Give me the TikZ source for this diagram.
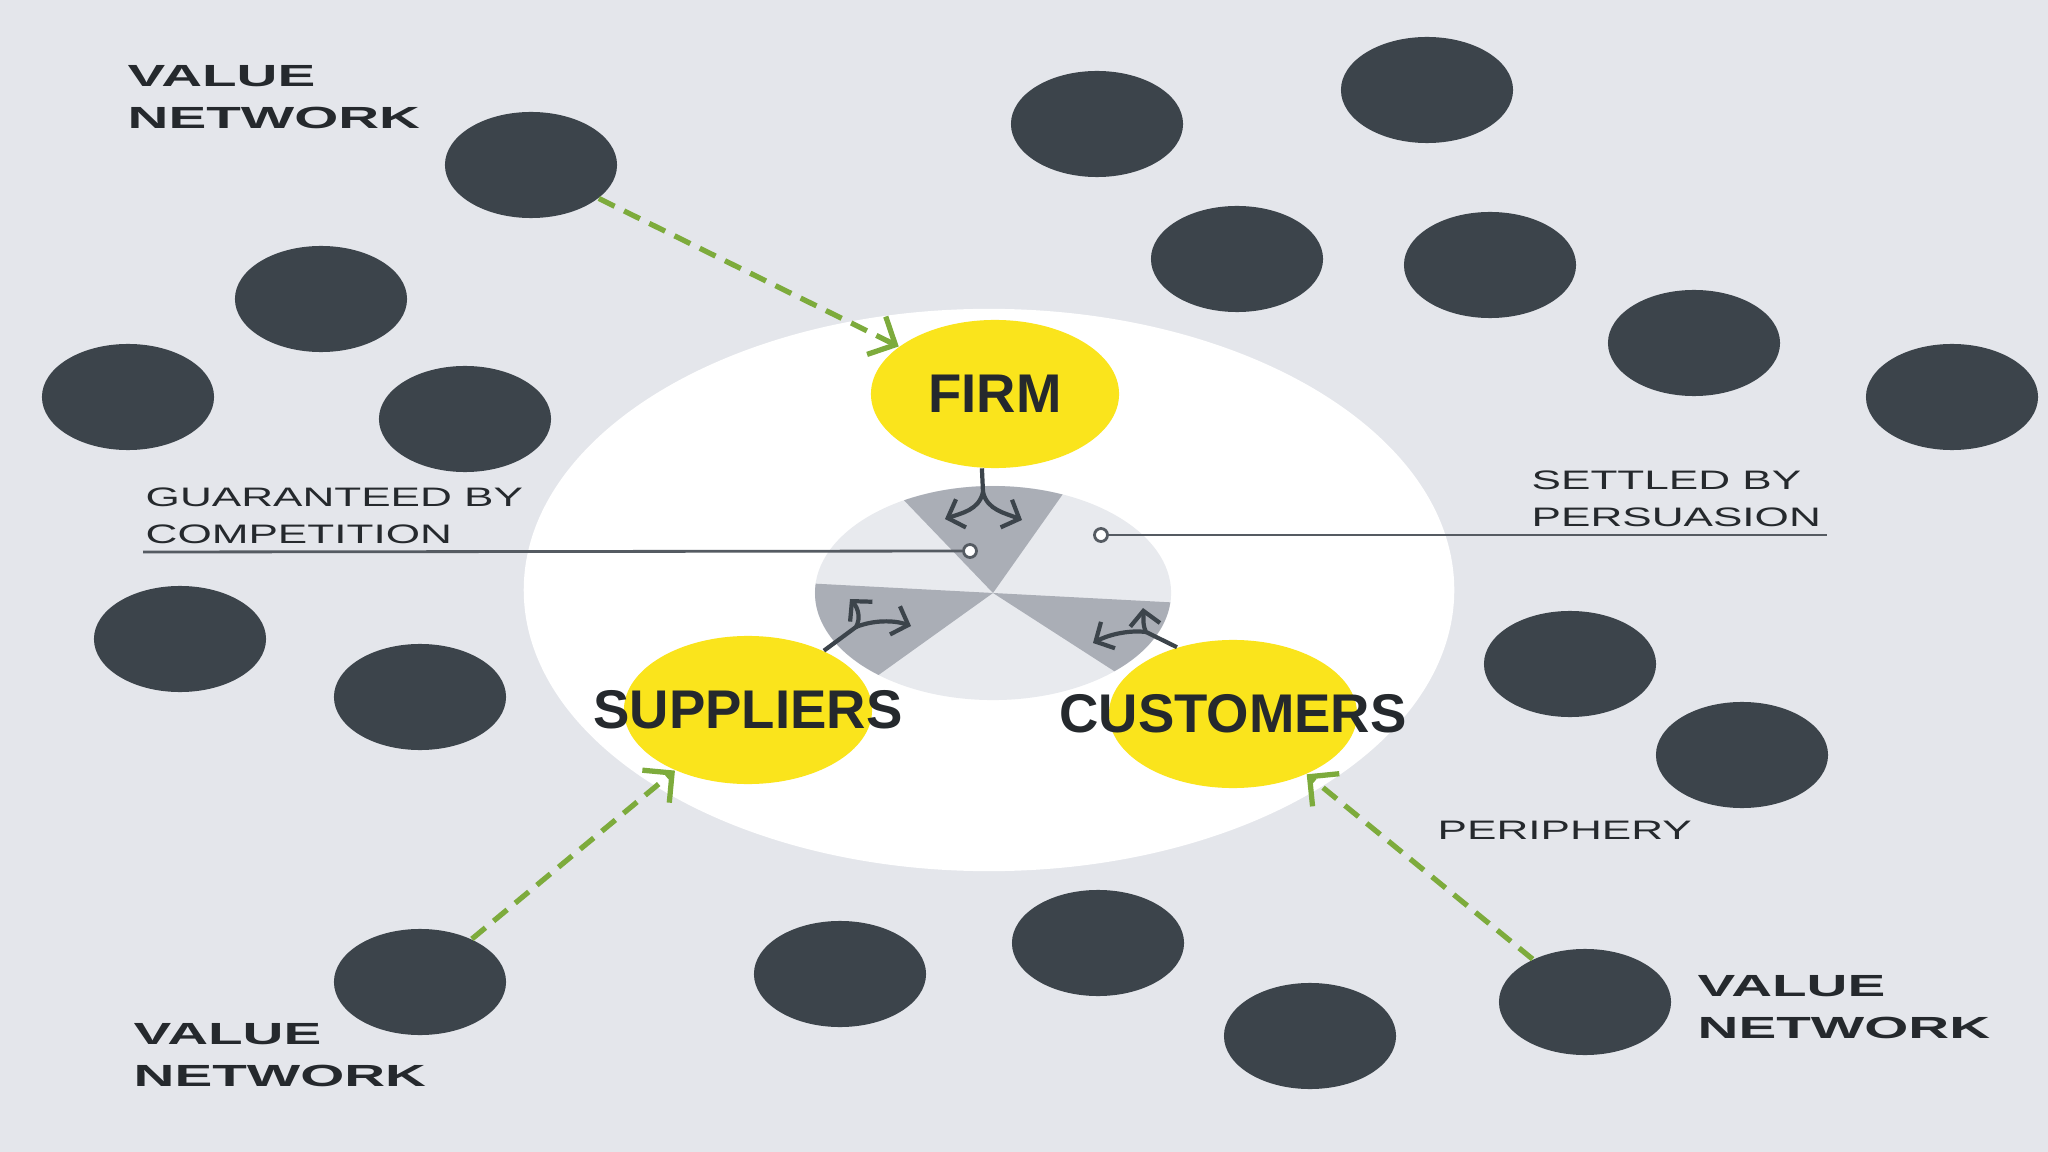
\documentclass[tikz,border=0pt]{standalone}
\usepackage{fontspec}
\setmainfont{Liberation Sans}
\newfontfamily\widefont{Liberation Sans}[FakeStretch=1.65]
\newfontfamily\widerfont{Liberation Sans}[FakeStretch=1.85]
\usetikzlibrary{positioning, arrows.meta, shapes.geometric}
\definecolor{bgc}{RGB}{228,230,235}
\definecolor{dotc}{RGB}{60,68,75}
\definecolor{corec}{RGB}{250,228,28}
\definecolor{pielt}{RGB}{232,234,238}
\definecolor{piedk}{RGB}{170,174,182}
\definecolor{ink}{RGB}{37,41,45}
\definecolor{linec}{RGB}{85,91,98}
\definecolor{vgreen}{RGB}{125,171,60}
\tikzset{
  peer/.style={ellipse, fill=dotc, minimum width=1.72cm, minimum height=1.06cm, inner sep=0},
  core/.style={ellipse, fill=corec, minimum width=2.48cm, minimum height=1.48cm, inner sep=0},
  corelbl/.style={text=ink, inner sep=0, font=\bfseries\fontsize{15.5}{18}\selectfont},
  hub/.style={ellipse, fill=white, minimum width=9.3cm, minimum height=5.62cm, inner sep=0},
  disc/.style={ellipse, fill=pielt, minimum width=3.56cm, minimum height=2.14cm, inner sep=0},
  knob/.style={circle, draw=linec, fill=white, line width=0.8pt, minimum size=0.13cm, inner sep=0},
  lead/.style={draw=linec, line width=0.8pt},
  arr/.style={-{Straight Barb[length=4pt, width=8.5pt]}, line width=1.2pt, draw=dotc},
  garr/.style={-{Straight Barb[length=6pt, width=12pt]}, line width=1.5pt, draw=vgreen, dash pattern=on 5pt off 3pt},
  lbl/.style={inner sep=0, align=left, text=ink, font=\widefont\fontsize{7.6}{10.5}\selectfont},
  big/.style={lbl, font=\widerfont\bfseries\fontsize{8.7}{12}\selectfont}
}
\begin{document}
\begin{tikzpicture}[x=0.01cm, y=-0.01cm]
\useasboundingbox (0,0) rectangle (2048,1152);
\fill[bgc] (0,0) rectangle (2048,1152);
\node[peer] (n1) at (531,165) {};
\node[peer] (n2) at (321,299) {};
\node[peer] (n3) at (128,397) {};
\node[peer] (n4) at (465,419) {};
\node[peer] (n5) at (1097,124) {};
\node[peer] (n6) at (1427,90) {};
\node[peer] (n7) at (1237,259) {};
\node[peer] (n8) at (1490,265) {};
\node[peer] (n9) at (1694,343) {};
\node[peer] (n10) at (1952,397) {};
\node[peer] (n11) at (180,639) {};
\node[peer] (n12) at (420,697) {};
\node[peer] (n13) at (1570,664) {};
\node[peer] (n14) at (1742,755) {};
\node[peer] (n15) at (420,982) {};
\node[peer] (n16) at (840,974) {};
\node[peer] (n17) at (1098,943) {};
\node[peer] (n18) at (1310,1036) {};
\node[peer] (n19) at (1585,1002) {};
\node[hub] (hub) at (989,590) {};
\node[disc] (pie) at (993,593) {};
\fill[piedk] (pie.center) -- ++(-67:178 and 107) arc[start angle=-67, end angle=-120, x radius=178, y radius=107] -- cycle;
\fill[piedk] (pie.center) -- ++(-175:178 and 107) arc[start angle=-175, end angle=-230, x radius=178, y radius=107] -- cycle;
\fill[piedk] (pie.center) -- ++(-313:178 and 107) arc[start angle=-313, end angle=-355, x radius=178, y radius=107] -- cycle;
\node[core, label={[corelbl]center:FIRM}] (firm) at (995,394) {};
\node[core, label={[corelbl]center:SUPPLIERS}] (sup) at (748,710) {};
\node[core, label={[corelbl]center:CUSTOMERS}] (cus) at (1233,714) {};
\coordinate (fs) at (983,492);
\coordinate (fl) at (945,519);
\coordinate (fr) at (1022,520);
\draw[arr] (firm.-100) -- (fs) .. controls (979,510) and (962,513) .. (fl);
\draw[arr] (fs) .. controls (987,510) and (1005,513) .. (fr);
\coordinate (ss) at (856,627);
\coordinate (su) at (850,599);
\coordinate (sr) at (911,626);
\draw[arr] (sup.38) -- (ss) .. controls (861,618) and (858,608) .. (su);
\draw[arr] (ss) .. controls (873,620) and (894,620) .. (sr);
\coordinate (cs) at (1146,632);
\coordinate (cu) at (1143,608);
\coordinate (cl) at (1093,643);
\draw[arr] (cus.130) -- (cs) .. controls (1142,624) and (1144,616) .. (cu);
\draw[arr] (cs) .. controls (1130,630) and (1110,634) .. (cl);
\node[knob] (gdot) at (970,551) {};
\node[knob] (sdot) at (1101,535) {};
\coordinate (gend) at (143,552);
\coordinate (send) at (1827,535);
\draw[lead] (gend) -- (gdot);
\draw[lead] (sdot) -- (send);
\node[lbl, anchor=north west] (guar) at (145,487) {GUARANTEED BY\\COMPETITION};
\node[lbl, anchor=north west] (sett) at (1531,470) {SETTLED BY\\PERSUASION};
\node[lbl, anchor=north west] (peri) at (1437,820) {PERIPHERY};
\node[big, anchor=north west] (vn1) at (127,65) {VALUE\\NETWORK};
\node[big, anchor=north west] (vn2) at (133,1023) {VALUE\\NETWORK};
\node[big, anchor=north west] (vn3) at (1697,975) {VALUE\\NETWORK};
\draw[garr] (n1) -- (firm);
\draw[garr] (n15) -- (sup);
\draw[garr] (n19) -- (cus);
\end{tikzpicture}
\end{document}
